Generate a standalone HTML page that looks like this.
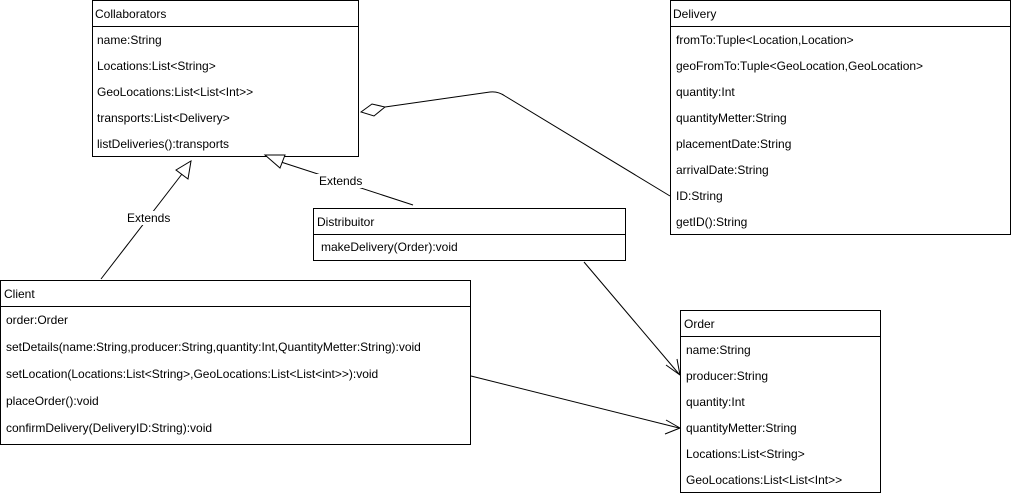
<!DOCTYPE html>
<html><head><meta charset="utf-8"><style>
html,body{margin:0;padding:0;background:#fff;}
svg{display:block;}
text{font-family:"Liberation Sans",sans-serif;font-size:12px;fill:#000;}
</style></head><body>
<svg width="1011" height="496" viewBox="0 0 1011 496" xmlns="http://www.w3.org/2000/svg">
<g fill="#fff" stroke="#000" stroke-width="1">
<rect x="92.5" y="0.5" width="266" height="156"/><line x1="92" y1="26.5" x2="359" y2="26.5"/>
<rect x="670.5" y="0.5" width="340" height="234"/><line x1="670" y1="26.5" x2="1011" y2="26.5"/>
<rect x="313.5" y="208.5" width="312" height="52"/><line x1="313" y1="234.5" x2="626" y2="234.5"/>
<rect x="0.5" y="280.5" width="470" height="164"/><line x1="0" y1="306.5" x2="471" y2="306.5"/>
<rect x="680.5" y="310.5" width="200" height="182"/><line x1="680" y1="336.5" x2="881" y2="336.5"/>
</g>
<g fill="none" stroke="#000" stroke-width="1">
<line x1="101" y1="279" x2="182" y2="174"/>
<polygon points="191,161 188,179 176,170" fill="#fff"/>
<line x1="413" y1="205" x2="281" y2="162"/>
<polygon points="265,155 285,155 280,168" fill="#fff"/>
<polygon points="361,112 372,104 385,107 374,116" fill="#fff"/>
<path d="M385,107 L490,92 Q498,91 505,96 L670,196"/>
<line x1="584" y1="262" x2="679" y2="374"/>
<polyline points="666,365 680,375 677,359"/>
<line x1="471" y1="376" x2="679" y2="428"/>
<polyline points="666,420 680,428 665,434"/>
</g>
<rect x="123" y="211" width="46" height="14" fill="#fff"/>
<text x="127" y="222">Extends</text>
<rect x="316" y="174" width="46" height="14" fill="#fff"/>
<text x="319" y="185">Extends</text>
<text x="95" y="18">Collaborators</text>
<text x="97" y="44">name:String</text>
<text x="97" y="70">Locations:List&lt;String&gt;</text>
<text x="97" y="96">GeoLocations:List&lt;List&lt;Int&gt;&gt;</text>
<text x="97" y="122">transports:List&lt;Delivery&gt;</text>
<text x="97" y="148">listDeliveries():transports</text>
<text x="673" y="18">Delivery</text>
<text x="676" y="44">fromTo:Tuple&lt;Location,Location&gt;</text>
<text x="676" y="70">geoFromTo:Tuple&lt;GeoLocation,GeoLocation&gt;</text>
<text x="676" y="96">quantity:Int</text>
<text x="676" y="122">quantityMetter:String</text>
<text x="676" y="148">placementDate:String</text>
<text x="676" y="174">arrivalDate:String</text>
<text x="676" y="200">ID:String</text>
<text x="676" y="226">getID():String</text>
<text x="317" y="226">Distribuitor</text>
<text x="321" y="251">makeDelivery(Order):void</text>
<text x="4" y="298">Client</text>
<text x="6" y="324">order:Order</text>
<text x="6" y="351">setDetails(name:String,producer:String,quantity:Int,QuantityMetter:String):void</text>
<text x="6" y="378">setLocation(Locations:List&lt;String&gt;,GeoLocations:List&lt;List&lt;int&gt;&gt;):void</text>
<text x="6" y="405">placeOrder():void</text>
<text x="6" y="432">confirmDelivery(DeliveryID:String):void</text>
<text x="684" y="328">Order</text>
<text x="686" y="354">name:String</text>
<text x="686" y="380">producer:String</text>
<text x="686" y="406">quantity:Int</text>
<text x="686" y="432">quantityMetter:String</text>
<text x="686" y="458">Locations:List&lt;String&gt;</text>
<text x="686" y="484">GeoLocations:List&lt;List&lt;Int&gt;&gt;</text>
</svg>
</body></html>
